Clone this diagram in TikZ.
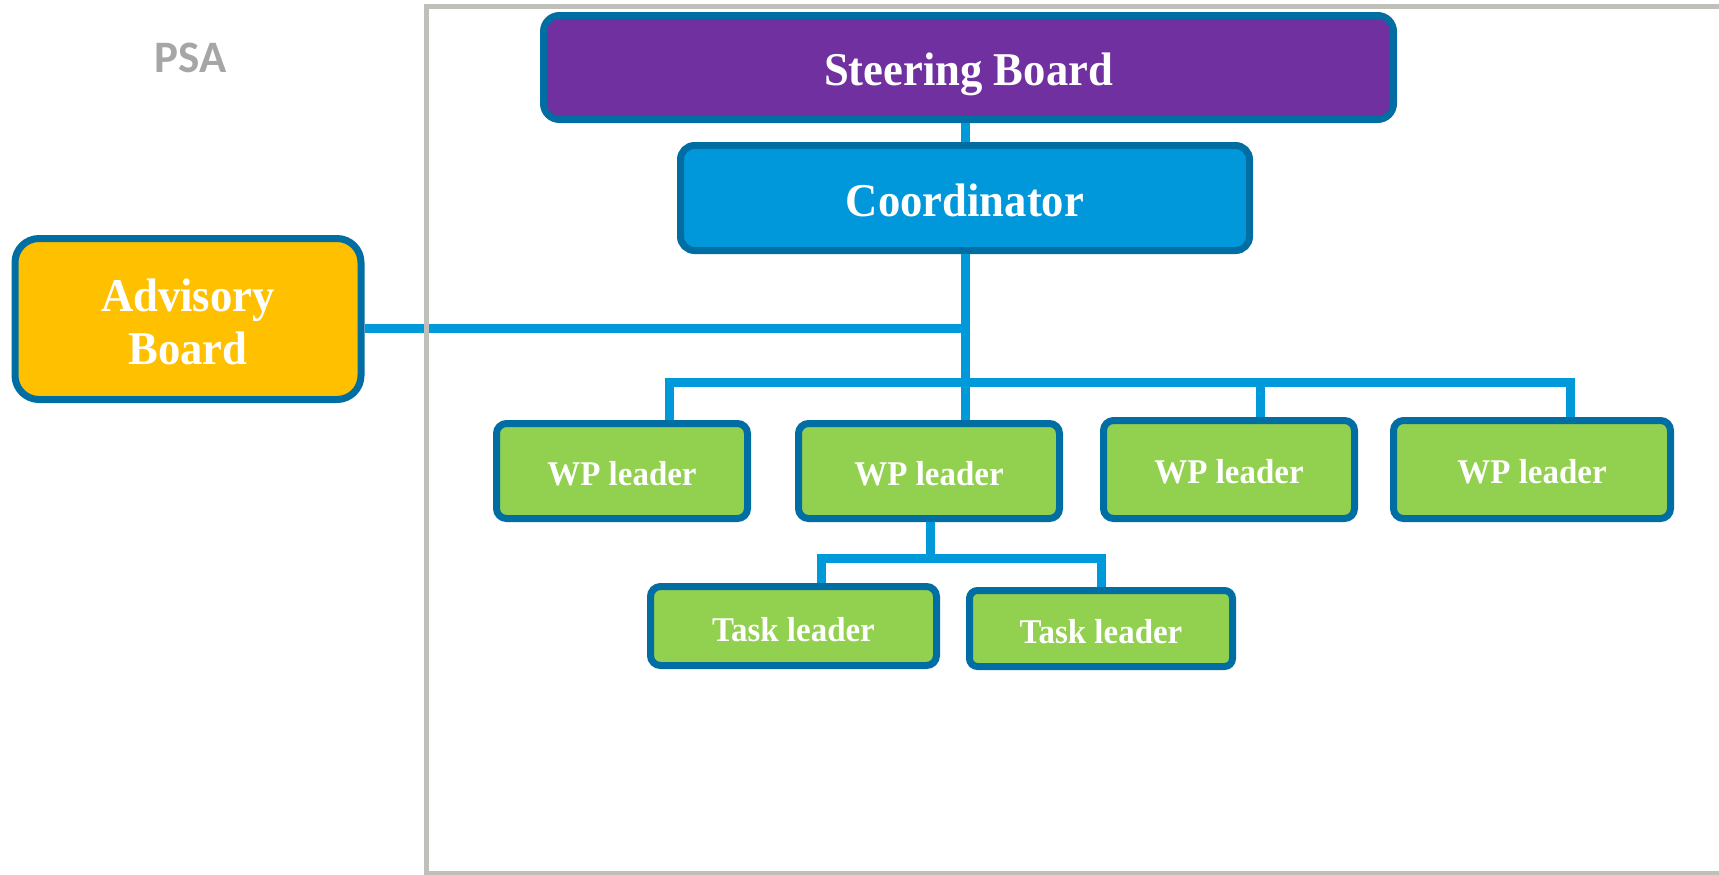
\documentclass[tikz,border=0pt]{standalone}
\usepackage{fontspec}
\newfontfamily\tnr[FakeStretch=0.95]{Liberation Serif}
\newfontfamily\carl{Carlito}
\definecolor{bordc}{RGB}{0,110,162}
\definecolor{connc}{RGB}{0,153,218}
\definecolor{coordc}{RGB}{0,152,218}
\definecolor{purp}{RGB}{112,48,160}
\definecolor{yell}{RGB}{255,192,0}
\definecolor{grn}{RGB}{146,208,80}
\definecolor{framec}{RGB}{192,192,186}
\definecolor{psag}{RGB}{166,166,166}
\begin{document}
\begin{tikzpicture}[x=0.5pt,y=-0.5pt,
  boxbase/.style={draw=bordc, line width=3.5pt, rounded corners=5pt, inner sep=0pt,
    text=white, align=center, font=\tnr\bfseries\fontsize{23.5}{26.5}\selectfont},
  box/.style={boxbase, text height=18pt, text depth=0pt},
  smallbox/.style={boxbase, fill=grn, font=\tnr\bfseries\fontsize{17.35}{20}\selectfont,
    text height=14pt, text depth=0pt},
  conn/.style={draw=connc, line width=4.5pt},
  framel/.style={draw=framec, line width=2.5pt}]
\clip (0,0) rectangle (1719,874);
\fill[white] (0,0) rectangle (1719,874);
% title
\node[font=\carl\bfseries\fontsize{22.5}{27}\selectfont, text=psag, inner sep=0pt, text depth=0pt] (psa) at (190.5,58) {PSA};
% boxes
\node[box, fill=purp, minimum width=425pt, minimum height=52pt, rounded corners=8pt] (steer) at (968.5,67.5) {Steering Board};
\node[box, fill=coordc, minimum width=284.5pt, minimum height=52.5pt, rounded corners=7pt] (coord) at (965,198) {Coordinator};
\node[boxbase, fill=yell, minimum width=173pt, minimum height=80.5pt, rounded corners=12pt] (adv) at (188,319) {\rule{0pt}{19pt}Advisory\\Board};
\node[smallbox, minimum width=125.5pt, minimum height=47.5pt] (wp1) at (622,471) {WP leader};
\node[smallbox, minimum width=130.5pt, minimum height=47.5pt] (wp2) at (929,471) {WP leader};
\node[smallbox, minimum width=125.5pt, minimum height=49pt] (wp3) at (1229,469.5) {WP leader};
\node[smallbox, minimum width=138.5pt, minimum height=49pt] (wp4) at (1532,469.5) {WP leader};
\node[smallbox, minimum width=143pt, minimum height=39.5pt, text height=15pt] (t1) at (793.5,626) {Task leader};
\node[smallbox, minimum width=131.5pt, minimum height=38pt, rounded corners=4pt, text height=15pt] (t2) at (1101,628.5) {Task leader};
% connectors
\coordinate (advj) at (965,328);
\coordinate (busL) at (669,382.5);
\coordinate (busR) at (1570,382.5);
\coordinate (bus3) at (1260,382.5);
\coordinate (tj) at (930,558);
\coordinate (tL) at (821,558);
\coordinate (tR) at (1101,558);
\draw[conn] (coord.north |- steer.south) -- (coord.north);
\draw[conn] (coord.south) -- (coord.south |- wp2.north);
\draw[conn] (adv.east |- advj) -- (advj);
\draw[conn] (busL |- wp1.north) -- (busL) -- (busR) -- (busR |- wp4.north);
\draw[conn] (bus3) -- (bus3 |- wp3.north);
\draw[conn] (tj |- wp2.south) -- (tj);
\draw[conn] (tL |- t1.north) -- (tL) -- (tR) -- (tR |- t2.north);
% frame
\draw[framel] (426,6.5) rectangle (1780,873);
\end{tikzpicture}
\end{document}
